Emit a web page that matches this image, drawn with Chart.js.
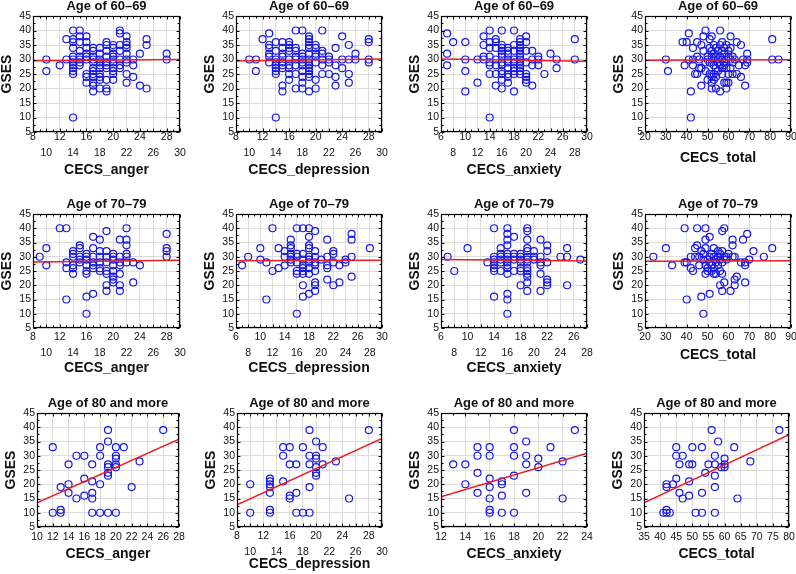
<!DOCTYPE html>
<html>
<head>
<meta charset="utf-8">
<script src="https://cdn.jsdelivr.net/npm/chart.js@4.4.0/dist/chart.umd.min.js"></script>
<style>
html, body { margin: 0; padding: 0; background: #fff; overflow: hidden; }
#wrap { position: relative; width: 796px; height: 574px; overflow: hidden; background: #fff; }
#wrap canvas { position: absolute; }
</style>
</head>
<body>
<div id="wrap"></div>
<script>
// GSES axis
const yTicks = [5, 10, 15, 20, 25, 30, 35, 40, 45];

// x tick labels per panel
const ticksAnger = [8, 10, 12, 14, 16, 18, 20, 22, 24, 26, 28, 30];
const ticksDep = [8, 10, 12, 14, 16, 18, 20, 22, 24, 26, 28, 30];
const ticksAnx60 = [6, 8, 10, 12, 14, 16, 18, 20, 22, 24, 26, 28, 30];
const ticksTotal = [20, 30, 40, 50, 60, 70, 80, 90];
const ticksDep70 = [6, 8, 10, 12, 14, 16, 18, 20, 22, 24, 26, 28, 30];
const ticksAnx70 = [6, 8, 10, 12, 14, 16, 18, 20, 22, 24, 26, 28];
const ticksAnger80 = [10, 12, 14, 16, 18, 20, 22, 24, 26, 28];
const ticksAnx80 = [12, 14, 16, 18, 20, 22, 24];
const ticksTotal80 = [35, 40, 45, 50, 55, 60, 65, 70, 75, 80];

// points: [CECS score, [GSES values at that score]]
const anger60 = [
    [10, [30, 26]], [12, [28]], [13, [37, 30]],
    [14, [40, 37, 36, 34, 31, 30, 29, 28, 27, 26, 25, 10]],
    [15, [40, 38, 36, 33, 31, 30, 29, 28]],
    [16, [38, 36, 34, 32, 31, 30, 25, 24, 22]],
    [17, [34, 33, 31, 30, 29, 27, 26, 25, 24, 22, 21, 19]],
    [18, [34, 32, 30, 29, 28, 27, 25, 24, 23, 20]],
    [19, [36, 35, 33, 31, 29, 28, 27, 23, 20, 19]],
    [20, [35, 34, 32, 31, 30, 29, 27, 26, 25, 23]],
    [21, [40, 39, 35, 33, 30, 28, 27]],
    [22, [38, 36, 35, 34, 32, 30, 29, 25, 22]],
    [23, [30, 28, 24]], [24, [32, 21]], [25, [37, 35, 20]], [28, [32, 30]]
];
const dep60 = [
    [10, [30]], [11, [30, 26]], [12, [37]],
    [13, [39, 35, 34, 32, 31, 29]],
    [14, [36, 33, 30, 29, 28, 27, 26, 25, 10]],
    [15, [36, 34, 32, 31, 29, 28, 27, 21, 19]],
    [16, [36, 35, 34, 33, 30, 28, 27, 25, 23]],
    [17, [40, 34, 33, 31, 30, 28, 25, 20]],
    [18, [40, 32, 31, 30, 29, 28, 26, 24, 22, 20]],
    [19, [38, 37, 36, 35, 34, 32, 30, 29, 28, 27, 26, 25, 24, 19]],
    [20, [35, 34, 32, 31, 29, 23, 20]],
    [21, [40, 33, 32, 30, 28, 25]],
    [22, [31, 30, 29, 25]], [23, [34, 28, 24, 21]], [24, [38, 30, 27]],
    [25, [35, 30, 25, 22]], [26, [32, 30]], [28, [37, 36, 30, 29]]
];
const anx60 = [
    [7, [39, 32, 28]], [8, [36]], [10, [36, 30, 26, 19]], [12, [30, 22]],
    [13, [38, 35, 31, 30]],
    [14, [40, 36, 34, 31, 29, 28, 25, 10]],
    [15, [37, 36, 34, 30, 28, 25, 21]],
    [16, [40, 35, 34, 33, 32, 31, 29, 28, 26, 25, 23, 20]],
    [17, [34, 33, 32, 30, 29, 27, 25, 24, 22]],
    [18, [40, 35, 33, 30, 29, 27, 26, 25, 19]],
    [19, [37, 36, 35, 34, 33, 32, 31, 30, 29, 28, 27, 26, 25]],
    [20, [38, 36, 33, 29, 25, 24, 23, 22]],
    [21, [33, 30, 28, 21]], [22, [31, 30, 28]], [23, [25]], [24, [32]],
    [25, [30, 27]], [28, [37, 30]]
];
const total60 = [
    [30, [30]], [31, [26]], [38, [36]], [39, [28]], [40, [36]], [41, [39, 30]],
    [42, [19, 10]], [43, [34, 30, 28]], [44, [25]], [45, [36, 31, 25]],
    [46, [30, 27]], [47, [35, 27, 21]], [48, [38, 33]], [49, [40, 29, 26]],
    [50, [31, 30, 23]], [51, [37, 34, 29, 25]], [52, [38, 33, 31, 24, 22, 20]],
    [53, [35, 32, 30, 28, 25, 23]], [54, [34, 31, 27, 24, 20]], [55, [33, 30, 29, 26]],
    [56, [40, 35, 31, 28, 19]], [57, [36, 33, 30, 27, 25]], [58, [34, 32, 29, 28, 22]],
    [59, [35, 30, 27, 22, 20]], [60, [33, 31, 25, 22]], [61, [38, 34, 30, 27]],
    [62, [31, 29, 25]], [63, [30]], [64, [36, 25]], [65, [28]], [66, [35, 24]],
    [67, [30]], [68, [28, 21]], [69, [32, 30, 29]], [81, [37, 30]], [84, [30]]
];

const anger70 = [
    [9, [30]], [10, [33, 27]], [12, [40]], [13, [40, 28, 26, 15]],
    [14, [32, 31, 30, 27, 26, 24]],
    [15, [34, 33, 30, 29, 28]],
    [16, [31, 30, 29, 27, 25, 24, 16, 10]],
    [17, [37, 33, 30, 28, 27, 26, 17]],
    [18, [36, 32, 30, 28, 26, 25]],
    [19, [39, 32, 30, 28, 25, 24, 20, 18]],
    [20, [31, 30, 29, 27, 25, 23, 22, 21]],
    [21, [36, 30, 28, 27, 24, 20, 18]],
    [22, [40, 36, 34, 31, 30, 28]],
    [23, [28, 21]], [24, [27]], [28, [38, 33, 32, 30]]
];
const dep70 = [
    [7, [27]], [8, [30]], [10, [33, 29]], [11, [28, 15]], [12, [40, 25]],
    [13, [33, 26]], [14, [32, 30, 27]],
    [15, [36, 34, 33, 31, 30, 29, 28]],
    [16, [40, 31, 30, 28, 25, 24, 10]],
    [17, [40, 31, 29, 27, 26, 25, 24, 20, 16]],
    [18, [40, 37, 34, 33, 30, 29, 28, 26, 24, 17]],
    [19, [39, 32, 30, 28, 27, 25, 21, 20, 18]],
    [20, [29]], [21, [36, 30, 27, 26, 22]], [22, [32, 31, 28, 20]],
    [23, [27, 21]], [24, [29, 28]], [25, [38, 36, 30, 23]], [28, [33]]
];
const anx70 = [
    [7, [30]], [8, [25]], [10, [33]], [13, [28]],
    [14, [40, 30, 29, 28, 27, 26, 25, 16]],
    [15, [33, 31, 30, 29, 28, 25]],
    [16, [40, 38, 36, 34, 31, 30, 29, 28, 27, 26, 24, 17, 15, 10]],
    [17, [37, 31, 30, 29, 25]],
    [18, [31, 30, 29, 28, 26, 25, 20]],
    [19, [40, 39, 36, 33, 32, 30, 29, 28, 26, 25, 24, 23, 21, 18]],
    [20, [32, 30, 29]],
    [21, [36, 30, 28, 27, 24, 18]],
    [22, [34, 32, 28, 22, 21, 20]],
    [24, [30]], [25, [33, 30, 20]], [27, [29]]
];
const total70 = [
    [24, [30]], [30, [33]], [33, [27]], [39, [40, 28]], [40, [28, 15]],
    [42, [30, 26]], [43, [25]], [44, [33, 30]], [45, [40, 34]], [46, [30, 27]],
    [47, [32, 16]], [48, [31, 29, 10]], [49, [40, 36, 33, 27, 24]],
    [50, [29, 26, 25]], [51, [37, 30, 28, 17]], [52, [31, 27, 25]],
    [53, [33, 30, 26, 24]], [54, [29, 28, 24]], [55, [32, 30, 27]],
    [56, [31, 29, 25, 20]], [57, [39, 32, 28, 24, 18]], [58, [40, 30, 21]],
    [59, [30, 29]], [60, [31]], [61, [18]], [62, [36, 34, 30]], [63, [30, 22, 20]],
    [64, [23]], [66, [28]], [67, [36]], [68, [28, 27, 21]], [69, [38]],
    [70, [29]], [72, [32]], [77, [30]], [81, [33]]
];

const anger80 = [
    [12, [33, 10]], [13, [19, 11, 10]], [14, [27, 20, 17]], [15, [30, 15]],
    [16, [30, 22, 16]], [17, [27, 21, 17, 15, 10]], [18, [33, 30, 20, 10]],
    [19, [39, 35, 27, 26, 24, 23, 10]], [20, [33, 30, 29, 27, 26, 10]],
    [21, [33]], [22, [19]], [23, [28]], [26, [39]]
];
const dep80 = [
    [10, [20, 10]], [13, [22, 21, 20, 19, 17, 11, 10]], [15, [33, 30, 21]],
    [16, [33, 27, 16, 15]], [17, [27, 17, 10]], [18, [33, 10]],
    [19, [39, 30, 27, 19, 10]], [20, [35, 30, 29, 26, 24, 23]],
    [21, [33, 27]], [23, [28]], [25, [15]], [28, [39]]
];
const anx80 = [
    [13, [27]], [14, [27, 20]], [15, [33, 30, 24, 17]],
    [16, [33, 30, 22, 19, 15, 11, 10]], [17, [21, 20, 16, 10]],
    [18, [39, 33, 30, 23, 10]], [19, [35, 30, 27, 17]], [20, [29, 26]],
    [21, [33]], [22, [28, 15]], [23, [39]]
];
const total80 = [
    [41, [10]], [42, [20, 19, 11, 10]], [43, [10]], [44, [20]], [45, [33, 30, 22]],
    [46, [27, 17]], [47, [30, 15]], [49, [27, 21, 16]], [50, [33, 27]], [51, [10]],
    [53, [33, 17, 10]], [54, [24]], [55, [27]], [56, [39]], [57, [30, 27, 23, 19, 10]],
    [58, [35]], [59, [26]], [60, [29, 27, 26]], [63, [33]], [64, [15]], [68, [28]], [77, [39]]
];

// fitted regression lines: [x0, y0, x1, y1]
const fitAnger60 = [8, 29.6, 30, 30.0];
const fitDep60 = [8, 29.5, 30, 30.2];
const fitAnx60 = [6, 30.2, 30, 29.4];
const fitTotal60 = [20, 29.7, 90, 29.9];
const fitAnger70 = [8, 28.2, 30, 28.8];
const fitDep70 = [6, 28.6, 30, 28.8];
const fitAnx70 = [6, 29.0, 28, 28.5];
const fitTotal70 = [20, 28.4, 90, 28.6];
const fitAnger80 = [10, 13.5, 28, 35.8];
const fitDep80 = [8, 12.8, 30, 36.1];
const fitAnx80 = [12, 15.6, 24, 30.9];
const fitTotal80 = [35, 13.5, 80, 37.4];

const FONT = '"Liberation Sans", Arial, sans-serif';
const INK = '#111';

// l/r/t/b = plot area in page px, lab = first tick row offset, gap = x title offset
const panels = [
    { title: 'Age of 60–69', xLabel: 'CECS_anger', cols: anger60, fit: fitAnger60, xTicks: ticksAnger, stagger: true, l: 33, r: 180, t: 16, b: 132, lab: 5, gap: 38 },
    { title: 'Age of 60–69', xLabel: 'CECS_depression', cols: dep60, fit: fitDep60, xTicks: ticksDep, stagger: true, l: 236, r: 382, t: 16, b: 132, lab: 5, gap: 38 },
    { title: 'Age of 60–69', xLabel: 'CECS_anxiety', cols: anx60, fit: fitAnx60, xTicks: ticksAnx60, stagger: true, l: 441, r: 587, t: 16, b: 132, lab: 5, gap: 38 },
    { title: 'Age of 60–69', xLabel: 'CECS_total', cols: total60, fit: fitTotal60, xTicks: ticksTotal, stagger: false, l: 645, r: 791, t: 16, b: 132, lab: 5, gap: 26 },
    { title: 'Age of 70–79', xLabel: 'CECS_anger', cols: anger70, fit: fitAnger70, xTicks: ticksAnger, stagger: true, l: 33, r: 180, t: 214, b: 328, lab: 9, gap: 40 },
    { title: 'Age of 70–79', xLabel: 'CECS_depression', cols: dep70, fit: fitDep70, xTicks: ticksDep70, stagger: true, l: 236, r: 382, t: 214, b: 328, lab: 9, gap: 40 },
    { title: 'Age of 70–79', xLabel: 'CECS_anxiety', cols: anx70, fit: fitAnx70, xTicks: ticksAnx70, stagger: true, l: 441, r: 587, t: 214, b: 328, lab: 9, gap: 40 },
    { title: 'Age of 70–79', xLabel: 'CECS_total', cols: total70, fit: fitTotal70, xTicks: ticksTotal, stagger: false, l: 645, r: 791, t: 214, b: 328, lab: 9, gap: 27 },
    { title: 'Age of 80 and more', xLabel: 'CECS_anger', cols: anger80, fit: fitAnger80, xTicks: ticksAnger80, stagger: false, l: 37, r: 179, t: 413, b: 527, lab: 10, gap: 27 },
    { title: 'Age of 80 and more', xLabel: 'CECS_depression', cols: dep80, fit: fitDep80, xTicks: ticksDep, stagger: true, l: 237, r: 382, t: 413, b: 527, lab: 9, gap: 37 },
    { title: 'Age of 80 and more', xLabel: 'CECS_anxiety', cols: anx80, fit: fitAnx80, xTicks: ticksAnx80, stagger: false, l: 441, r: 587, t: 413, b: 527, lab: 10, gap: 27 },
    { title: 'Age of 80 and more', xLabel: 'CECS_total', cols: total80, fit: fitTotal80, xTicks: ticksTotal80, stagger: false, l: 644, r: 789, t: 413, b: 527, lab: 10, gap: 27 }
];

function toPoints(cols) {
    const pts = [];
    cols.forEach(([x, ys]) => ys.forEach(y => pts.push({ x, y })));
    return pts;
}

// black frame round the plot with small inward ticks, Statistica style
const framePlugin = {
    id: 'frame',
    afterDraw(chart) {
        const { ctx, chartArea: a, scales } = chart;
        const L = Math.round(a.left) + 0.5, R = Math.round(a.right) - 0.5;
        const T = Math.round(a.top) + 0.5, B = Math.round(a.bottom) - 0.5;
        ctx.save();
        ctx.strokeStyle = '#000';
        ctx.lineWidth = 1;
        ctx.beginPath();
        scales.x.ticks.forEach((t, i, arr) => {
            const vals = [t.value];
            if (i < arr.length - 1) vals.push((t.value + arr[i + 1].value) / 2);
            vals.forEach((v, k) => {
                const px = Math.round(scales.x.getPixelForValue(v)) + 0.5;
                const len = k ? 2 : 3;
                ctx.moveTo(px, B); ctx.lineTo(px, B - len);
                ctx.moveTo(px, T); ctx.lineTo(px, T + len);
            });
        });
        scales.y.ticks.forEach((t, i, arr) => {
            const vals = [t.value];
            if (i < arr.length - 1) vals.push((t.value + arr[i + 1].value) / 2);
            vals.forEach((v, k) => {
                const py = Math.round(scales.y.getPixelForValue(v)) + 0.5;
                const len = k ? 2 : 3;
                ctx.moveTo(L, py); ctx.lineTo(L + len, py);
                ctx.moveTo(R, py); ctx.lineTo(R - len, py);
            });
        });
        ctx.stroke();
        ctx.lineWidth = 1.2;
        ctx.strokeRect(L, T, R - L, B - T);
        ctx.restore();
    }
};

function makePanel(p) {
    const yW = 34, titleH = 17, rp = 12;
    const xH = p.gap + 8;
    const w = yW + (p.r - p.l) + rp;
    const h = titleH + (p.b - p.t) + xH;

    const cv = document.createElement('canvas');
    cv.width = w;
    cv.height = h;
    cv.style.left = (p.l - yW) + 'px';
    cv.style.top = (p.t - titleH) + 'px';
    cv.style.width = w + 'px';
    cv.style.height = h + 'px';
    document.getElementById('wrap').appendChild(cv);

    new Chart(cv.getContext('2d'), {
        type: 'scatter',
        data: {
            datasets: [
                {
                    data: [{ x: p.fit[0], y: p.fit[1] }, { x: p.fit[2], y: p.fit[3] }],
                    showLine: true,
                    borderColor: 'rgb(235, 30, 35)',
                    borderWidth: 1.5,
                    pointRadius: 0,
                    order: 0
                },
                {
                    data: toPoints(p.cols),
                    pointStyle: 'circle',
                    pointRadius: 3.5,
                    borderWidth: 1.2,
                    borderColor: 'rgb(25, 25, 230)',
                    backgroundColor: 'rgba(0, 0, 0, 0)',
                    order: 1
                }
            ]
        },
        options: {
            responsive: false,
            animation: false,
            devicePixelRatio: 1,
            events: [],
            layout: { padding: { left: 0, right: rp, top: 0, bottom: 0 } },
            plugins: {
                legend: { display: false },
                tooltip: { enabled: false },
                title: {
                    display: true,
                    text: p.title,
                    fullSize: false,
                    color: INK,
                    font: { family: FONT, size: 13, weight: 'bold', lineHeight: '14px' },
                    padding: { top: 0, bottom: 3 }
                }
            },
            scales: {
                x: {
                    type: 'linear',
                    min: p.xTicks[0],
                    max: p.xTicks[p.xTicks.length - 1],
                    afterBuildTicks: s => { s.ticks = p.xTicks.map(v => ({ value: v })); },
                    afterFit: s => { s.height = xH; },
                    grid: { color: '#dcdcdc', drawTicks: false },
                    border: { display: false },
                    ticks: {
                        autoSkip: false,
                        maxRotation: 0,
                        padding: p.lab - 8,
                        color: INK,
                        font: { family: FONT, size: 10.5, lineHeight: '16px' },
                        callback: (v, i) => (p.stagger && i % 2 ? ['', String(v)] : String(v))
                    },
                    title: {
                        display: true,
                        text: p.xLabel,
                        color: INK,
                        font: { family: FONT, size: 14, weight: 'bold', lineHeight: '16px' },
                        padding: 0
                    }
                },
                y: {
                    type: 'linear',
                    min: yTicks[0],
                    max: yTicks[yTicks.length - 1],
                    afterBuildTicks: s => { s.ticks = yTicks.map(v => ({ value: v })); },
                    afterFit: s => { s.width = yW; },
                    grid: { color: '#dcdcdc', drawTicks: false },
                    border: { display: false },
                    ticks: {
                        autoSkip: false,
                        padding: 2,
                        color: INK,
                        font: { family: FONT, size: 10.5 }
                    },
                    title: {
                        display: true,
                        text: 'GSES',
                        color: INK,
                        font: { family: FONT, size: 14, weight: 'bold', lineHeight: '16px' },
                        padding: 0
                    }
                }
            }
        },
        plugins: [framePlugin]
    });
}

panels.forEach(makePanel);
</script>
</body>
</html>
